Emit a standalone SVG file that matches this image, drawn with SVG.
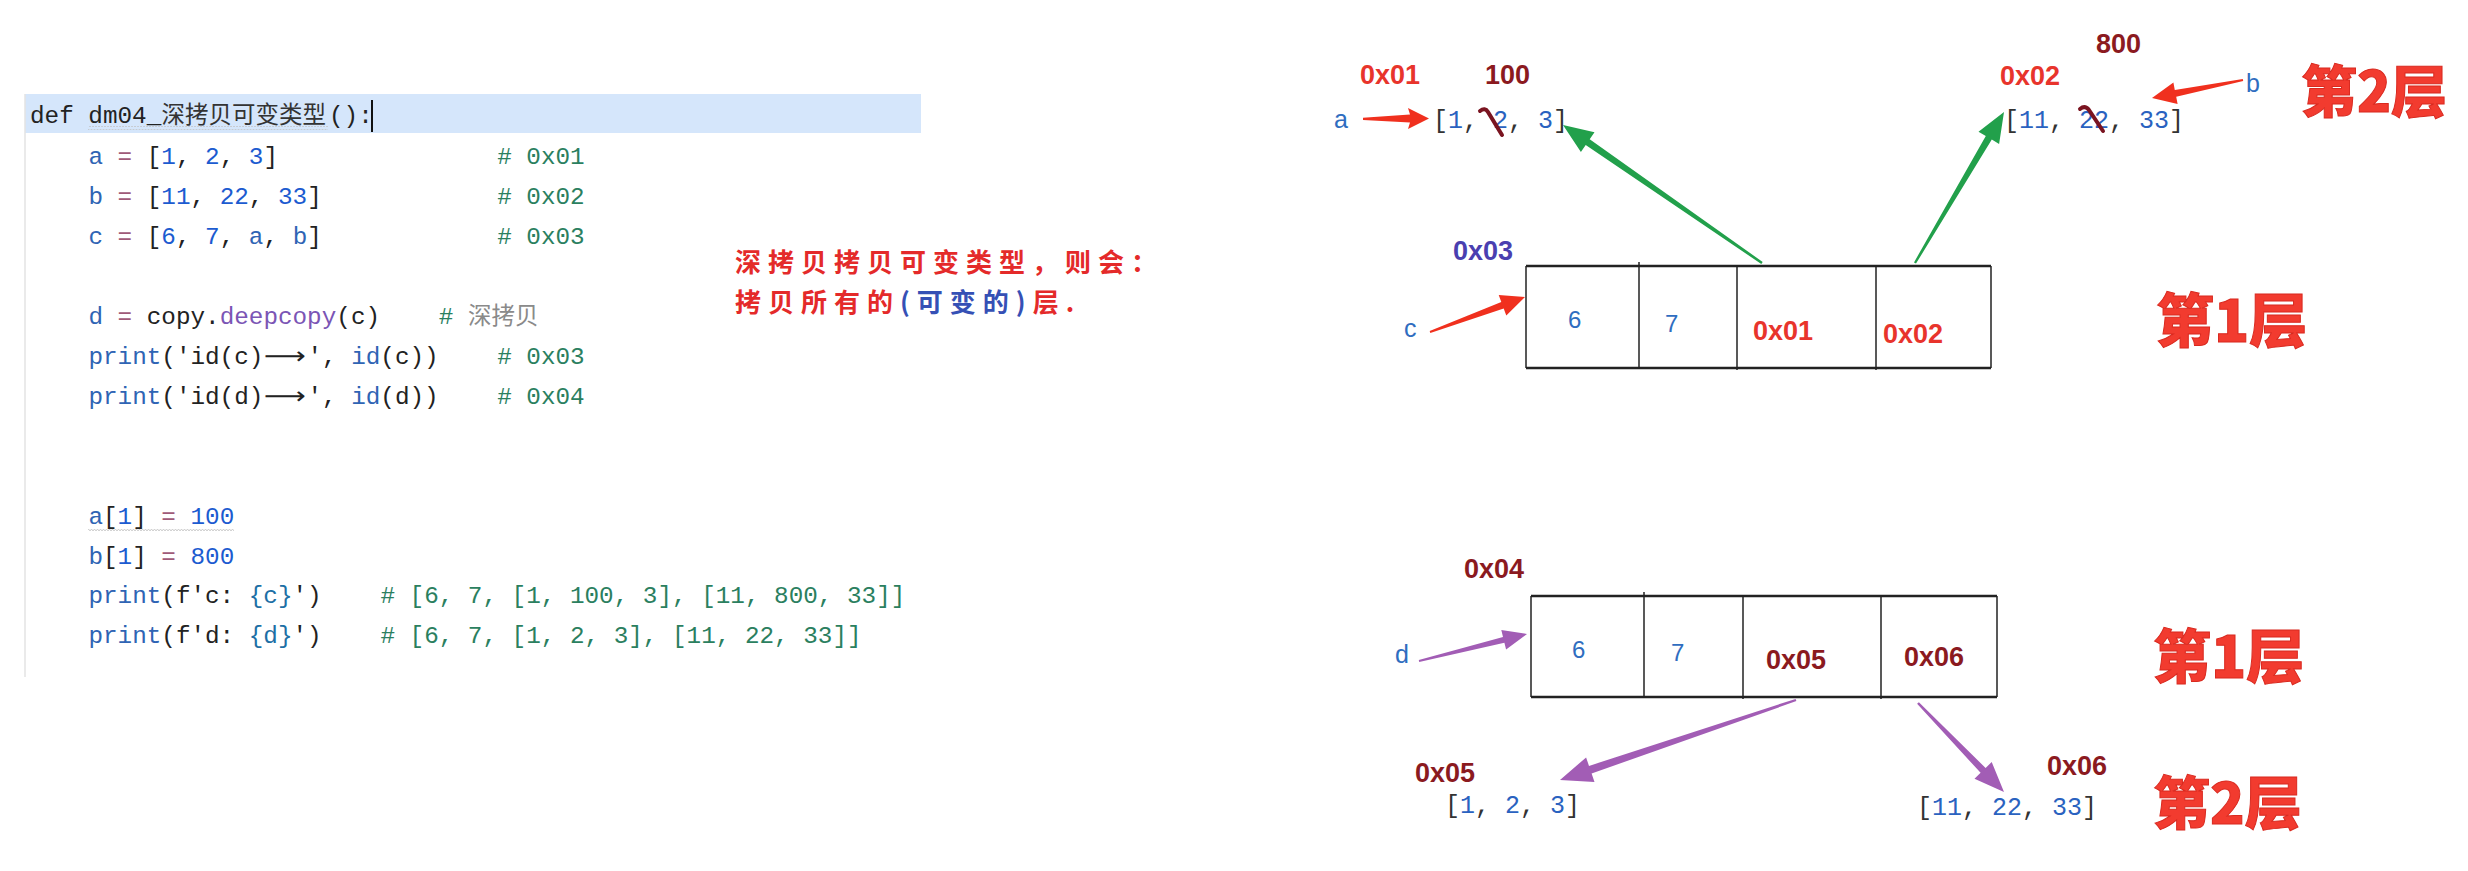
<svg xmlns="http://www.w3.org/2000/svg" width="2468" height="871" viewBox="0 0 2468 871">
<style>
.code{font-family:"Liberation Mono","DejaVu Sans Mono",monospace;font-size:24.3px;fill:#222}
.cjk{font-family:"Noto Sans CJK SC","Noto Sans",sans-serif}
.k{fill:#222}.v{fill:#2f64b4}.n{fill:#1c5bd0}.o{fill:#a05a78}.m{fill:#7b55b5}.c{fill:#2b7f5f}.g{fill:#8a8a8a}.f{fill:#1d6fa5}
.lbl{font-family:"Liberation Sans",Arial,sans-serif;font-size:27px;font-weight:bold}
.red{fill:#e8342c}.dred{fill:#8b1a1f}.ind{fill:#4a3fb0}
.var{font-family:"Liberation Sans",Arial,sans-serif;font-size:25px;fill:#2f6dc0}
.cell{font-family:"Liberation Sans",Arial,sans-serif;font-size:24px;fill:#2f6dc0}
.lst{font-family:"Liberation Mono","DejaVu Sans Mono",monospace;font-size:25px;fill:#333}
.ln{fill:#2a62c0}
.layer{font-family:"Noto Sans CJK SC","Liberation Sans",sans-serif;font-weight:900;fill:#f23b2f;stroke:#d92a20;stroke-width:1}
.box{fill:#fff;stroke:none}
.edge{stroke:#222;stroke-width:2.5}
.side{stroke:#222;stroke-width:1.5}
.note{font-family:"Noto Sans CJK SC",sans-serif;font-size:26px;font-weight:700;letter-spacing:7px}
.strike{fill:none;stroke:#7a1420;stroke-width:4;stroke-linecap:round;stroke-linejoin:round}
</style>
<defs>
<pattern id="wave" width="6" height="4" patternUnits="userSpaceOnUse">
<path d="M0,3 L1.5,1 L3,3 L4.5,1 L6,3" fill="none" stroke="#c2c2c2" stroke-width="0.8"/>
</pattern>
</defs>
<rect width="2468" height="871" fill="#ffffff"/>

<g id="code-panel">
<rect x="25" y="94" width="896" height="39" fill="#d5e6fb"/>
<line x1="25" y1="94" x2="25" y2="677" stroke="#e3e3e3" stroke-width="1.5"/>
<rect x="88" y="126" width="240" height="4" fill="url(#wave)"/>
<line x1="372" y1="100" x2="372" y2="132" stroke="#111" stroke-width="2"/>
<text class="code" x="30" y="123" xml:space="preserve"><tspan class="k">def dm04_</tspan></text>
<text class="cjk" x="161.4" y="123" font-size="23.5" fill="#333">深拷贝可变类型</text>
<text class="code" x="329" y="123">():</text>

<text class="code" x="88.4" y="164" xml:space="preserve"><tspan class="v">a</tspan><tspan class="o"> = </tspan>[<tspan class="n">1</tspan>, <tspan class="n">2</tspan>, <tspan class="n">3</tspan>]<tspan class="c" x="497.2"># 0x01</tspan></text>
<text class="code" x="88.4" y="204" xml:space="preserve"><tspan class="v">b</tspan><tspan class="o"> = </tspan>[<tspan class="n">11</tspan>, <tspan class="n">22</tspan>, <tspan class="n">33</tspan>]<tspan class="c" x="497.2"># 0x02</tspan></text>
<text class="code" x="88.4" y="244" xml:space="preserve"><tspan class="v">c</tspan><tspan class="o"> = </tspan>[<tspan class="n">6</tspan>, <tspan class="n">7</tspan>, <tspan class="v">a</tspan>, <tspan class="v">b</tspan>]<tspan class="c" x="497.2"># 0x03</tspan></text>

<text class="code" x="88.4" y="324" xml:space="preserve"><tspan class="v">d</tspan><tspan class="o"> = </tspan>copy.<tspan class="m">deepcopy</tspan>(c)<tspan class="c" x="438.8">#</tspan></text>
<text class="cjk" x="468" y="324" font-size="23.5" fill="#8a8a8a">深拷贝</text>

<text class="code" x="88.4" y="364" xml:space="preserve"><tspan class="v">print</tspan>('id(c)<tspan x="307.4">', </tspan><tspan class="v">id</tspan>(c))<tspan class="c" x="497.2"># 0x03</tspan></text>
<text x="264" y="364" font-family="DejaVu Sans,sans-serif" font-size="24" fill="#222" textLength="42" lengthAdjust="spacingAndGlyphs">⟶</text>
<text class="code" x="88.4" y="404" xml:space="preserve"><tspan class="v">print</tspan>('id(d)<tspan x="307.4">', </tspan><tspan class="v">id</tspan>(d))<tspan class="c" x="497.2"># 0x04</tspan></text>
<text x="264" y="404" font-family="DejaVu Sans,sans-serif" font-size="24" fill="#222" textLength="42" lengthAdjust="spacingAndGlyphs">⟶</text>

<rect x="88" y="528" width="146" height="4" fill="url(#wave)"/>
<text class="code" x="88.4" y="524" xml:space="preserve"><tspan class="v">a</tspan>[<tspan class="n">1</tspan>]<tspan class="o"> = </tspan><tspan class="n">100</tspan></text>
<text class="code" x="88.4" y="564" xml:space="preserve"><tspan class="v">b</tspan>[<tspan class="n">1</tspan>]<tspan class="o"> = </tspan><tspan class="n">800</tspan></text>
<text class="code" x="88.4" y="603" xml:space="preserve"><tspan class="v">print</tspan>(f'c: <tspan class="f">{c}</tspan>')<tspan class="c" x="380.4"># [6, 7, [1, 100, 3], [11, 800, 33]]</tspan></text>
<text class="code" x="88.4" y="643" xml:space="preserve"><tspan class="v">print</tspan>(f'd: <tspan class="f">{d}</tspan>')<tspan class="c" x="380.4"># [6, 7, [1, 2, 3], [11, 22, 33]]</tspan></text>
</g>

<g id="note">
<text class="note" x="735" y="272" fill="#e42a2a">深拷贝拷贝可变类型，则会：</text>
<text class="note" x="735" y="312" fill="#e42a2a">拷贝所有的<tspan fill="#3550b5">(可变的)</tspan>层.</text>
</g>

<g id="connectors">
<polygon fill="#f0301e" points="1363,117.8 1410,114.5 1408,108 1429,118.5 1408,129 1410,122.5 1363,120"/>
<polygon fill="#f0301e" points="2243.2,81 2176.2,96.7 2177.6,104.1 2152,98 2173.4,82.5 2174.8,89.9 2242.8,79"/>
<polygon fill="#f0301e" points="1430.3,332.9 1503.7,308.6 1506.3,315.6 1525,297 1498.7,295 1501.3,302 1429.7,331.1"/>
<polygon fill="#22a04b" points="1762.7,262 1589.7,139.2 1594.5,132.2 1563,125 1580.9,152 1585.7,145 1761.3,264"/>
<polygon fill="#22a04b" points="1916,263.6 1991.8,139.6 1999.1,143.9 2004,112 1978.5,131.7 1985.8,136 1914,262.4"/>
<polygon fill="#a25db5" points="1419.2,662 1504.4,642.7 1506.1,649.5 1527,634 1501.3,630.1 1503,636.9 1418.8,660"/>
<polygon fill="#a25db5" points="1795.6,698.9 1589,765.9 1586.1,757.4 1560,780 1594.5,782 1591.6,773.5 1796.4,701.1"/>
<polygon fill="#a25db5" points="1917.1,703.8 1980.6,772.8 1974.5,778.7 2004,792 1991.7,762.1 1985.6,768 1918.9,702.2"/>
</g>

<g id="node-a">
<text class="lbl red" x="1360" y="84">0x01</text>
<text class="lbl dred" x="1485" y="84">100</text>
<text class="var" x="1334" y="128">a</text>
<text class="lst" x="1433" y="128">[<tspan class="ln">1</tspan>, <tspan class="ln">2</tspan>, <tspan class="ln">3</tspan>]</text>
<path class="strike" d="M1480,111 Q1485,107 1488,112 L1502,135"/>
</g>

<g id="node-b">
<text class="lbl red" x="2000" y="85">0x02</text>
<text class="lbl dred" x="2096" y="53">800</text>
<text class="var" x="2246" y="92">b</text>
<text class="lst" x="2004" y="128">[<tspan class="ln">11</tspan>, <tspan class="ln">22</tspan>, <tspan class="ln">33</tspan>]</text>
<path class="strike" d="M2080,109 Q2085,105 2089,110 L2103,131"/>
</g>

<g id="layer-labels">
<text class="layer" x="2301" y="112" font-size="56">第2层</text>
<text class="layer" x="2156" y="342" font-size="58">第1层</text>
<text class="layer" x="2153" y="678" font-size="58">第1层</text>
<text class="layer" x="2153" y="824" font-size="57">第2层</text>
</g>

<g id="node-c">
<text class="lbl ind" x="1453" y="260">0x03</text>
<text class="var" x="1404" y="337">c</text>
<rect class="box" x="1526" y="266" width="465" height="102"/>
<line class="edge" x1="1526" y1="266" x2="1991" y2="266"/>
<line class="edge" x1="1526" y1="368" x2="1991" y2="368"/>
<line class="side" x1="1526" y1="266" x2="1526" y2="368"/>
<line class="side" x1="1991" y1="266" x2="1991" y2="368"/>
<line class="side" x1="1639" y1="262" x2="1639" y2="368"/>
<line class="side" x1="1737" y1="266" x2="1737" y2="370"/>
<line class="side" x1="1876" y1="266" x2="1876" y2="370"/>
<text class="cell" x="1568" y="328">6</text>
<text class="cell" x="1665" y="332">7</text>
<text class="lbl red" x="1753" y="340">0x01</text>
<text class="lbl red" x="1883" y="343">0x02</text>
</g>

<g id="node-d">
<text class="lbl dred" x="1464" y="578">0x04</text>
<text class="var" x="1395" y="663">d</text>
<rect class="box" x="1531" y="596" width="466" height="101"/>
<line class="edge" x1="1531" y1="596" x2="1997" y2="596"/>
<line class="edge" x1="1531" y1="697" x2="1997" y2="697"/>
<line class="side" x1="1531" y1="596" x2="1531" y2="697"/>
<line class="side" x1="1997" y1="596" x2="1997" y2="697"/>
<line class="side" x1="1644" y1="592" x2="1644" y2="697"/>
<line class="side" x1="1743" y1="596" x2="1743" y2="699"/>
<line class="side" x1="1881" y1="596" x2="1881" y2="699"/>
<text class="cell" x="1572" y="658">6</text>
<text class="cell" x="1671" y="661">7</text>
<text class="lbl dred" x="1766" y="669">0x05</text>
<text class="lbl dred" x="1904" y="666">0x06</text>
</g>

<g id="node-d-a">
<text class="lbl dred" x="1415" y="782">0x05</text>
<text class="lst" x="1445" y="813">[<tspan class="ln">1</tspan>, <tspan class="ln">2</tspan>, <tspan class="ln">3</tspan>]</text>
</g>

<g id="node-d-b">
<text class="lbl dred" x="2047" y="775">0x06</text>
<text class="lst" x="1917" y="815">[<tspan class="ln">11</tspan>, <tspan class="ln">22</tspan>, <tspan class="ln">33</tspan>]</text>
</g>
</svg>
